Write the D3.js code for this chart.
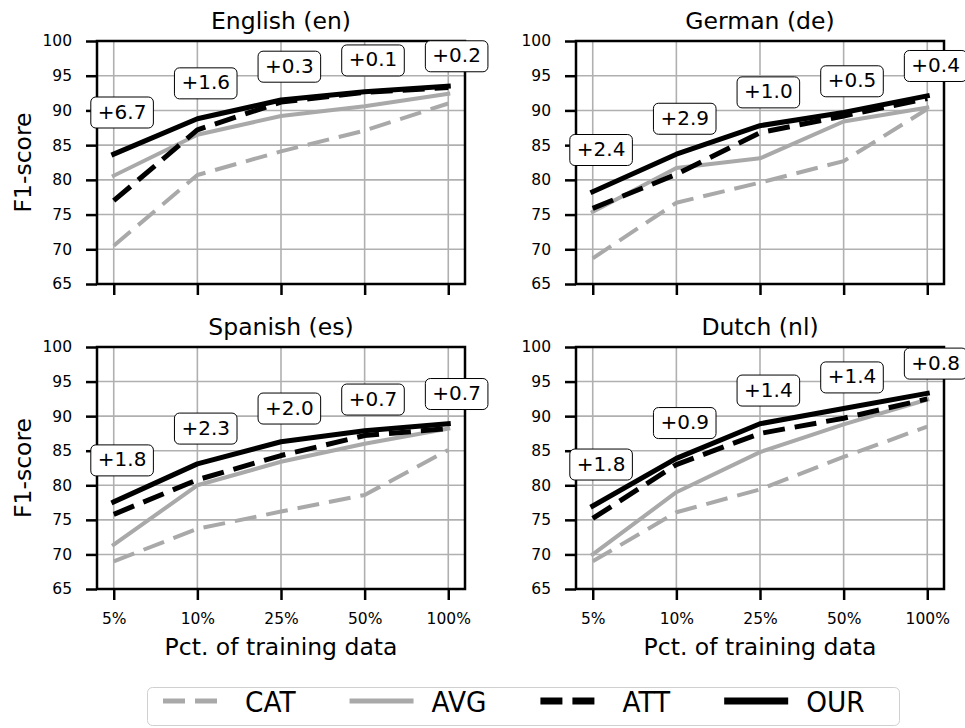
<!DOCTYPE html>
<html>
<head>
<meta charset="utf-8">
<script src="https://cdn.jsdelivr.net/npm/d3@7"></script>
<style>
  html, body { margin: 0; padding: 0; background: #fff; }
  svg { display: block; font-family: "DejaVu Sans", sans-serif; }
</style>
</head>
<body>
<svg id="chart" width="965" height="728"></svg>
<script>
// Training-data fractions (x categories) and F1 axis ticks
const categories = ["5%", "10%", "25%", "50%", "100%"];
const yTicks = [65, 70, 75, 80, 85, 90, 95, 100];
const languages = ["English (en)", "German (de)", "Spanish (es)", "Dutch (nl)"];
const methods = ["CAT", "AVG", "ATT", "OUR"];

// F1 scores per language and method
const enCAT = [70.5, 80.7, 84.1, 87.1, 91.0];
const enAVG = [80.6, 86.5, 89.2, 90.6, 92.4];
const enATT = [77.0, 87.2, 91.2, 92.6, 93.3];
const enOUR = [83.7, 88.8, 91.5, 92.7, 93.5];

const deCAT = [68.7, 76.7, 79.6, 82.7, 90.2];
const deAVG = [75.4, 81.7, 83.1, 88.4, 90.4];
const deATT = [75.9, 80.8, 86.8, 89.2, 91.7];
const deOUR = [78.3, 83.7, 87.8, 89.7, 92.1];

const esCAT = [69.0, 73.7, 76.2, 78.6, 85.1];
const esAVG = [71.4, 80.0, 83.4, 86.0, 88.2];
const esATT = [75.8, 80.8, 84.3, 87.2, 88.2];
const esOUR = [77.6, 83.1, 86.3, 87.9, 88.9];

const nlCAT = [69.0, 76.1, 79.4, 84.1, 88.5];
const nlAVG = [70.0, 79.0, 84.8, 88.8, 92.4];
const nlATT = [75.2, 83.0, 87.5, 89.7, 92.5];
const nlOUR = [77.0, 83.9, 88.9, 91.1, 93.3];

const panelSeries = [
  [enCAT, enAVG, enATT, enOUR],
  [deCAT, deAVG, deATT, deOUR],
  [esCAT, esAVG, esATT, esOUR],
  [nlCAT, nlAVG, nlATT, nlOUR]
];

// ---- styling ----
const GRAY = "#a9a9a9";
const lineStyle = {
  CAT: { color: GRAY, width: 4, dash: "22,10", legendWidth: 5 },
  AVG: { color: GRAY, width: 4, dash: null, legendWidth: 5 },
  ATT: { color: "#000", width: 5, dash: "22,10", legendWidth: 7 },
  OUR: { color: "#000", width: 5, dash: null, legendWidth: 7 }
};
// height of each gain label above the OUR curve (F1 units)
const labelLift = [6.0, 5.1, 4.8, 4.5, 4.3];

const svg = d3.select("#chart");

const cols = [[97, 465], [576, 944]];
const rows = [[41, 284], [347, 589]];

const fmtGain = v => (v >= 0 ? "+" : "") + v.toFixed(1);

languages.forEach((lang, p) => {
  const [x0, x1] = cols[p % 2];
  const [y0, y1] = rows[Math.floor(p / 2)];
  const isLeft = p % 2 === 0;
  const isBottom = p >= 2;

  const x = d3.scaleLinear().domain([-0.2, categories.length - 1 + 0.2]).range([x0, x1]);
  const y = d3.scaleLinear().domain([65, 100]).range([y1, y0]);

  const g = svg.append("g");

  // grid
  g.append("g").selectAll("line.vg").data(categories).join("line")
    .attr("x1", (d, i) => x(i)).attr("x2", (d, i) => x(i))
    .attr("y1", y0).attr("y2", y1)
    .attr("stroke", "#b0b0b0").attr("stroke-width", 1.6);
  g.append("g").selectAll("line.hg").data(yTicks).join("line")
    .attr("x1", x0).attr("x2", x1)
    .attr("y1", d => y(d)).attr("y2", d => y(d))
    .attr("stroke", "#b0b0b0").attr("stroke-width", 1.6);

  // axes
  const xAxis = d3.axisBottom(x)
    .tickValues(d3.range(categories.length))
    .tickFormat(i => isBottom ? categories[i] : "")
    .tickSize(11).tickPadding(13);
  const gx = g.append("g").attr("transform", `translate(0,${y1})`).call(xAxis);
  const yAxis = d3.axisLeft(y).tickValues(yTicks).tickSize(11).tickPadding(14);
  const gy = g.append("g").attr("transform", `translate(${x0},0)`).call(yAxis);
  [gx, gy].forEach(a => {
    a.select(".domain").remove();
    a.selectAll(".tick line").attr("stroke", "#000").attr("stroke-width", 2.5);
    a.selectAll(".tick text").attr("fill", "#000").attr("font-size", 15.5)
      .attr("font-family", "DejaVu Sans");
  });

  // series lines
  const line = d3.line().x((d, i) => x(i)).y(d => y(d));
  methods.forEach((m, k) => {
    const s = lineStyle[m];
    g.append("path")
      .datum(panelSeries[p][k])
      .attr("d", line)
      .attr("fill", "none")
      .attr("stroke", s.color)
      .attr("stroke-width", s.width)
      .attr("stroke-dasharray", s.dash)
      .attr("stroke-linejoin", "round")
      .attr("stroke-linecap", s.dash ? "butt" : "square");
  });

  // frame
  g.append("rect")
    .attr("x", x0).attr("y", y0).attr("width", x1 - x0).attr("height", y1 - y0)
    .attr("fill", "none").attr("stroke", "#000").attr("stroke-width", 2.5);

  // title
  g.append("text")
    .attr("x", (x0 + x1) / 2).attr("y", y0 - 12.5)
    .attr("text-anchor", "middle").attr("font-size", 23.5)
    .text(lang);

  if (isLeft) {
    g.append("text")
      .attr("transform", `translate(31,${(y0 + y1) / 2}) rotate(-90)`)
      .attr("text-anchor", "middle").attr("font-size", 23.5)
      .text("F1-score");
  }
  if (isBottom) {
    g.append("text")
      .attr("x", (x0 + x1) / 2).attr("y", y1 + 66)
      .attr("text-anchor", "middle").attr("font-size", 23.5)
      .text("Pct. of training data");
  }

  // gain labels: OUR minus ATT
  const ours = panelSeries[p][3];
  const atts = panelSeries[p][2];
  ours.forEach((v, i) => {
    const gain = Math.round((v - atts[i]) * 10) / 10;
    const cx = x(i + 0.1);
    const cy = y(v + labelLift[i]);
    const lg = g.append("g");
    const t = lg.append("text")
      .attr("x", cx).attr("y", cy + 6)
      .attr("text-anchor", "middle").attr("font-size", 20)
      .text(fmtGain(gain));
    const w = t.node().getComputedTextLength() + 14;
    lg.insert("rect", "text")
      .attr("x", cx - w / 2).attr("y", cy - 15.5)
      .attr("width", w).attr("height", 31)
      .attr("rx", 5).attr("ry", 5)
      .attr("fill", "#fff").attr("stroke", "#000").attr("stroke-width", 1);
  });
});

// legend
const leg = svg.append("g");
leg.append("rect")
  .attr("x", 147.5).attr("y", 687.5).attr("width", 752).attr("height", 38)
  .attr("rx", 5).attr("ry", 5)
  .attr("fill", "#fff").attr("stroke", "#d0d0d0").attr("stroke-width", 1);
let lx = 163;
const textScale = 0.91;
methods.forEach(m => {
  const s = lineStyle[m];
  leg.append("line")
    .attr("x1", lx).attr("x2", lx + 64).attr("y1", 701).attr("y2", 701)
    .attr("stroke", s.color).attr("stroke-width", s.legendWidth)
    .attr("stroke-dasharray", s.dash);
  const tx = lx + 82;
  const t = leg.append("text")
    .attr("transform", `translate(${tx},711.5) scale(${textScale},1)`)
    .attr("font-size", 29)
    .text(m);
  const tw = t.node().getComputedTextLength() * textScale;
  lx = tx + tw + 54;
});
</script>
</body>
</html>
